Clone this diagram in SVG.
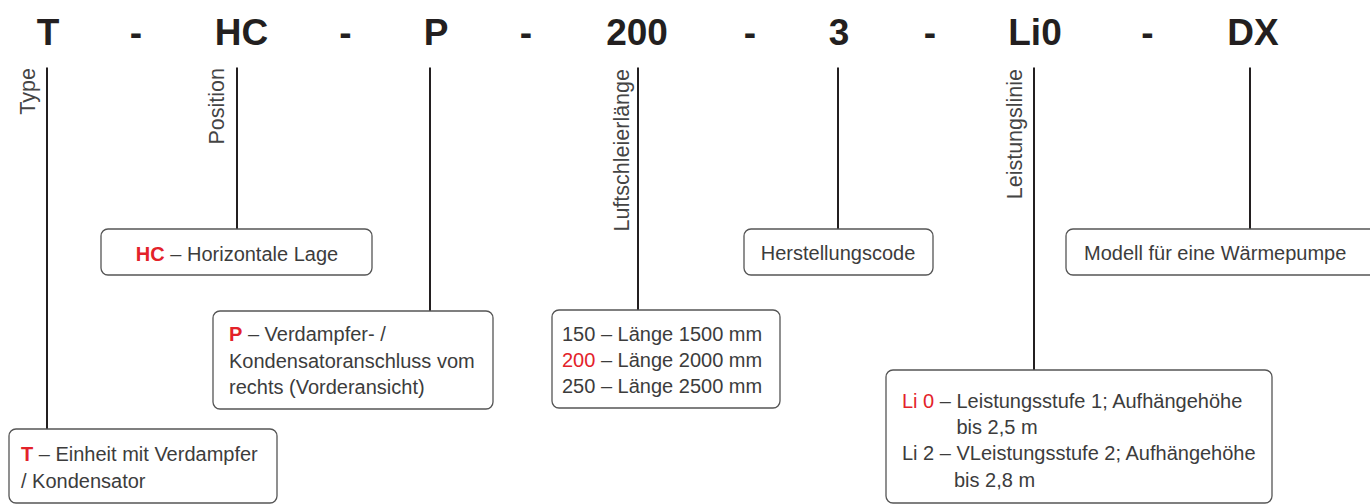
<svg xmlns="http://www.w3.org/2000/svg" width="1370" height="504" viewBox="0 0 1370 504">
<style>
.title{font-family:"Liberation Sans",Arial,sans-serif;font-weight:bold;font-size:37px;fill:#231f20;text-anchor:middle}
.lbl{font-family:"Liberation Sans",Arial,sans-serif;font-size:21.5px;fill:#444;text-anchor:end}
.txt{font-family:"Liberation Sans",Arial,sans-serif;font-size:20px;fill:#3c3c3c}
.red{fill:#e3222a}
.b{font-weight:bold}
.box{fill:#fff;stroke:#555;stroke-width:1.3}
.con{stroke:#231f20;stroke-width:2;fill:none}
</style>
<rect width="1370" height="504" fill="#fff"/>
<g id="title">
<text class="title" x="48" y="45">T</text>
<text class="title" x="136" y="45">-</text>
<text class="title" x="241.5" y="45">HC</text>
<text class="title" x="345.5" y="45">-</text>
<text class="title" x="436" y="45">P</text>
<text class="title" x="526" y="45">-</text>
<text class="title" x="637" y="45">200</text>
<text class="title" x="750" y="45">-</text>
<text class="title" x="839" y="45">3</text>
<text class="title" x="930" y="45">-</text>
<text class="title" x="1035" y="45">Li0</text>
<text class="title" x="1147.5" y="45">-</text>
<text class="title" x="1253" y="45">DX</text>
</g>
<g id="connectors">
<line class="con" x1="47" y1="67.5" x2="47" y2="429"/>
<line class="con" x1="237" y1="67.5" x2="237" y2="229"/>
<line class="con" x1="430" y1="67.5" x2="430" y2="311"/>
<line class="con" x1="638" y1="67.5" x2="638" y2="310"/>
<line class="con" x1="838" y1="67.5" x2="838" y2="229"/>
<line class="con" x1="1034" y1="67.5" x2="1034" y2="370"/>
<line class="con" x1="1250" y1="67.5" x2="1250" y2="229"/>
</g>
<g id="labels">
<text class="lbl" transform="translate(35,68) rotate(-90)">Type</text>
<text class="lbl" transform="translate(224,68) rotate(-90)">Position</text>
<text class="lbl" transform="translate(629,69) rotate(-90)">Luftschleierlänge</text>
<text class="lbl" transform="translate(1022,69) rotate(-90)">Leistungslinie</text>
</g>
<g id="node-type">
<rect class="box" x="9" y="429" width="268" height="74" rx="7"/>
<text class="txt" x="21" y="461"><tspan class="red b">T</tspan> – Einheit mit Verdampfer</text>
<text class="txt" x="21" y="488">/ Kondensator</text>
</g>
<g id="node-position">
<rect class="box" x="101" y="229" width="271" height="46" rx="7"/>
<text class="txt" x="237" y="261" text-anchor="middle"><tspan class="red b">HC</tspan> – Horizontale Lage</text>
</g>
<g id="node-anschluss">
<rect class="box" x="213" y="311" width="280" height="98" rx="7"/>
<text class="txt" x="229" y="341"><tspan class="red b">P</tspan> – Verdampfer- /</text>
<text class="txt" x="229" y="367.5">Kondensatoranschluss vom</text>
<text class="txt" x="229" y="393.5">rechts (Vorderansicht)</text>
</g>
<g id="node-laenge">
<rect class="box" x="552" y="310" width="228" height="98" rx="7"/>
<text class="txt" x="562" y="341">150 – Länge 1500 mm</text>
<text class="txt" x="562" y="367"><tspan class="red">200</tspan> – Länge 2000 mm</text>
<text class="txt" x="562" y="393">250 – Länge 2500 mm</text>
</g>
<g id="node-herstellung">
<rect class="box" x="744" y="229" width="189" height="46" rx="7"/>
<text class="txt" x="838" y="260" text-anchor="middle">Herstellungscode</text>
</g>
<g id="node-leistung">
<rect class="box" x="886" y="370" width="386" height="133" rx="7"/>
<text class="txt" x="902" y="407.5"><tspan class="red">Li 0</tspan> – Leistungsstufe 1; Aufhängehöhe</text>
<text class="txt" x="956.5" y="433.5">bis 2,5 m</text>
<text class="txt" x="902" y="460">Li 2 – VLeistungsstufe 2; Aufhängehöhe</text>
<text class="txt" x="954" y="487">bis 2,8 m</text>
</g>
<g id="node-modell">
<rect class="box" x="1066" y="229" width="320" height="46" rx="7"/>
<text class="txt" x="1084" y="260">Modell für eine Wärmepumpe</text>
</g>
</svg>
